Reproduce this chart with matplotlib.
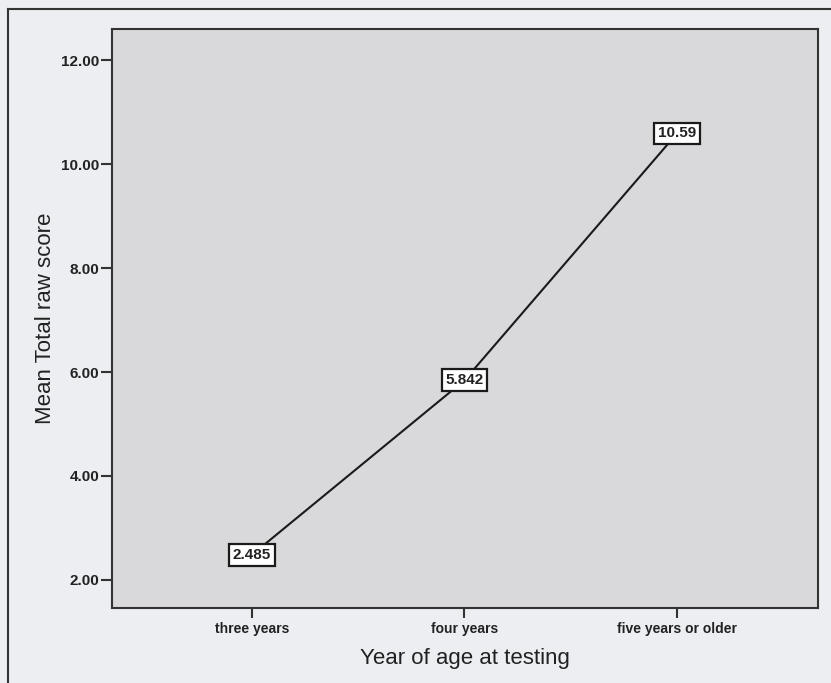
import matplotlib
matplotlib.use("Agg")
import matplotlib.pyplot as plt
from matplotlib.lines import Line2D

# ── data ──────────────────────────────────────────────────────────────────────
age_groups = ["three years", "four years", "five years or older"]
mean_scores = [2.485, 5.842, 10.59]
score_labels = ["2.485", "5.842", "10.59"]
y_ticks = [2, 4, 6, 8, 10, 12]

FIG_BG = "#eceef2"
AX_BG = "#d9d9db"
INK = "#222222"

plt.rcParams["font.family"] = ["Liberation Sans", "DejaVu Sans"]

fig = plt.figure(figsize=(8.31, 6.83), dpi=100, facecolor=FIG_BG)
ax = fig.add_axes([0.1348, 0.1098, 0.8496, 0.8477], facecolor=AX_BG)

x = list(range(len(age_groups)))
ax.plot(x, mean_scores, color="#1a1a1a", linewidth=1.5, zorder=2)

for xi, yi, lab in zip(x, mean_scores, score_labels):
    ax.text(xi, yi, lab, ha="center", va="center", fontsize=11,
            fontweight="bold", color=INK, zorder=3,
            bbox=dict(boxstyle="square,pad=0.25", facecolor="white",
                      edgecolor="#1a1a1a", linewidth=1.6))

ax.set_xlim(-0.659, 2.664)
ax.set_ylim(1.46, 12.6)
ax.set_xticks(x)
ax.set_xticklabels(age_groups, fontsize=10, fontweight="bold", color=INK)
ax.set_yticks(y_ticks)
ax.set_yticklabels([f"{v:.2f}" for v in y_ticks], fontsize=11,
                   fontweight="bold", color=INK)
ax.tick_params(axis="y", length=8, width=1.5, color="#333333", pad=1)
ax.tick_params(axis="x", length=7, width=1.5, color="#333333", pad=3)

for sp in ax.spines.values():
    sp.set_color("#333333")
    sp.set_linewidth(1.5)

ax.set_xlabel("Year of age at testing", fontsize=16, color=INK, labelpad=9)
ax.set_ylabel("Mean Total raw score", fontsize=16, color=INK, labelpad=4)

# outer frame (left and top edges visible)
fig.add_artist(Line2D([8 / 831, 8 / 831], [0, 1 - 9 / 683],
                      transform=fig.transFigure, color="#333333", lw=1.5))
fig.add_artist(Line2D([8 / 831, 1], [1 - 9 / 683, 1 - 9 / 683],
                      transform=fig.transFigure, color="#333333", lw=1.5))

fig.savefig("out.png", dpi=100, facecolor=FIG_BG)
